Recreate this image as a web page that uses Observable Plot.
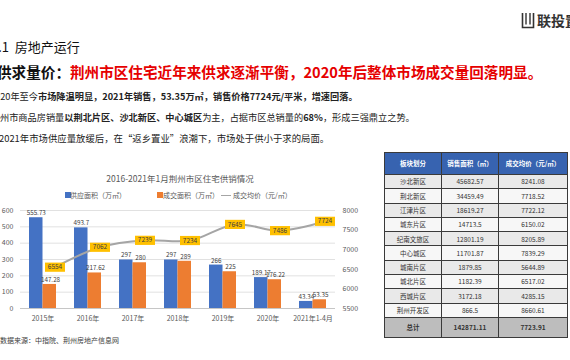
<!DOCTYPE html>
<html>
<head>
<meta charset="utf-8">
<script src="https://cdn.jsdelivr.net/npm/d3@7"></script>
<script src="https://cdn.jsdelivr.net/npm/@observablehq/plot@0.6"></script>
<style>
  html, body { margin: 0; padding: 0; background: #ffffff; }
  body { width: 570px; height: 360px; position: relative; overflow: hidden;
         font-family: "Noto Sans CJK SC", "Noto Sans", sans-serif; color: #222; }
  .abs { position: absolute; white-space: nowrap; }
  b { font-weight: 700; }
  table.t { position: absolute; left: 384px; top: 152px; border-collapse: collapse;
            font-size: 6.5px; color: #333; table-layout: fixed; }
  table.t td, table.t th { border: 1px solid #3a3a3a; text-align: center; padding: 0; line-height: 1; }
  table.t th { background: #3763b0; color: #fff; font-weight: 700; height: 21px; }
  table.t tr.r td { height: 13.3px; }
  table.t tr.r:nth-child(odd) td { background: #e9e9e9; }
  table.t tr.r:nth-child(even) td { background: #f7f7f7; }
  table.t tr.tot td { background: #bdbdbd; font-weight: 700; height: 19px; }
</style>
</head>
<body>
<div class="abs" style="left:521px; top:11px;">
  <svg width="14" height="18" viewBox="0 0 14 18">
    <path d="M1.5,1 V15.5 H12.5 V1" fill="none" stroke="#333" stroke-width="1.6"/>
    <path d="M5,1 V12.5 M9,1 V12.5" fill="none" stroke="#333" stroke-width="1.4"/>
  </svg>
</div>
<div class="abs" style="left:537px; top:10px; font-size:14px; line-height:20px; font-weight:700; color:#333;">联投置业</div>

<div class="abs" style="left:-9px; top:38px; font-size:13px; line-height:18px; color:#111;">2.1&nbsp;&nbsp;房地产运行</div>

<div class="abs" style="left:-3px; top:62px; font-size:14.6px; line-height:20px; font-weight:700;">
  <span style="color:#111;">供求量价：</span><span style="color:#e60000;">荆州市区住宅近年来供求逐渐平衡，2020年后整体市场成交量回落明显。</span>
</div>

<div class="abs" style="left:-10px; top:90px; font-size:9.2px; line-height:12px;">2020年至今<b>市场降温明显，2021年销售，53.35万㎡，销售价格7724元/平米，增速回落。</b></div>
<div class="abs" style="left:-9.2px; top:111px; font-size:9.2px; line-height:12px;">荆州市商品房销量<b>以荆北片区、沙北新区、中心城区</b>为主，占据市区总销量的<b>68%</b>，形成三强鼎立之势。</div>
<div class="abs" style="left:-1px; top:132px; font-size:9.4px; line-height:12px;">2021年市场供应量放缓后，在“返乡置业”浪潮下，市场处于供小于求的局面。</div>

<div id="ctitle" class="abs" style="left:0; width:360px; text-align:center; top:172px; font-size:8.5px; line-height:12px; color:#595959;"></div>
<div id="legend" class="abs" style="left:0; top:189px; width:370px; height:12px; font-size:7px; line-height:12px; color:#595959;"></div>

<div id="chart" class="abs" style="left:0; top:200px;"></div>

<div class="abs" style="left:0; top:334px; font-size:7px; line-height:12px; color:#404040;">数据来源：中指院、荆州房地产信息网</div>

<table class="t" id="tbl">
  <colgroup><col style="width:57px"><col style="width:57px"><col style="width:69px"></colgroup>
</table>

<script>
// ---- chart data ----
const chartTitle = "2016-2021年1月荆州市区住宅供销情况";
const years = ["2015年", "2016年", "2017年", "2018年", "2019年", "2020年", "2021年1-4月"];
const supply = [555.73, 493.7, 297, 297, 266, 189.17, 43.34];
const deal = [147.28, 217.62, 280, 289, 225, 176.22, 53.35];
const price = [6554, 7062, 7239, 7234, 7645, 7486, 7724];
const leftTicks = [0, 100, 200, 300, 400, 500, 600];
const priceTicks = [5500, 6000, 6500, 7000, 7500, 8000];
const seriesNames = ["供应面积（万㎡）", "成交面积（万㎡）", "成交均价（元/㎡）"];
const seriesColors = ["#4472c4", "#ed7d31", "#a5a5a5"];

// ---- table data ----
const tableHeader = ["板块划分", "销售面积（㎡）", "成交均价（元/㎡）"];
const districts = ["沙北新区", "荆北新区", "江津片区", "城东片区", "纪南文旅区", "中心城区", "城南片区", "城北片区", "西城片区", "荆州开发区"];
const salesArea = ["45682.57", "34459.49", "18619.27", "14713.5", "12801.19", "11701.87", "1879.85", "1182.39", "3172.18", "866.5"];
const avgPrice = ["8241.08", "7718.52", "7722.12", "6150.02", "8205.89", "7839.29", "5644.89", "6517.02", "4285.15", "8660.61"];
const totalRow = ["总计", "142871.11", "7723.91"];

// ---- build chart ----
const font = '"Noto Sans CJK SC", "Noto Sans", sans-serif';
const pMin = priceTicks[0], pMax = priceTicks[priceTicks.length - 1];
const yMax = leftTicks[leftTicks.length - 1];
const toY = p => (p - pMin) / (pMax - pMin) * yMax;
const fromY = v => Math.round(pMin + v / yMax * (pMax - pMin));

const rows = years.map((year, i) => ({year, supply: supply[i], deal: deal[i], price: price[i]}));

const boxSymbol = { draw(ctx) { ctx.rect(-10, -4.6, 20, 9.2); } };
const lineShift = 12;

document.getElementById("ctitle").textContent = chartTitle;

const plot = Plot.plot({
  width: 370,
  height: 130,
  marginTop: 10,
  marginBottom: 22,
  marginLeft: 20,
  marginRight: 35,
  style: {fontFamily: font, fontSize: "7px", background: "transparent", color: "#595959", overflow: "visible"},
  x: {type: "band", domain: years, padding: 0, axis: null},
  y: {domain: [0, yMax], axis: null},
  marks: [
    Plot.gridY({ticks: leftTicks, stroke: "#d9d9d9", strokeOpacity: 1, strokeWidth: 0.8}),
    Plot.ruleY([0], {stroke: "#bfbfbf", strokeWidth: 0.8}),
    Plot.barY(rows, {x: "year", y: "supply", fill: seriesColors[0], insetLeft: 9, insetRight: 22.5}),
    Plot.barY(rows, {x: "year", y: "deal", fill: seriesColors[1], insetLeft: 22.5, insetRight: 9}),
    Plot.text(rows, {x: "year", y: "supply", text: d => String(d.supply), dx: -6.75, dy: -2.5, lineAnchor: "bottom", fontSize: 6.3, fill: "#404040"}),
    Plot.text(rows, {x: "year", y: "deal", text: d => String(d.deal), dx: 7.5, dy: -2.5, lineAnchor: "bottom", fontSize: 6.3, fill: "#404040"}),
    Plot.line(rows, {x: "year", y: d => toY(d.price), curve: "catmull-rom", stroke: seriesColors[2], strokeWidth: 2, dx: lineShift}),
    Plot.dot(rows, {x: "year", y: d => toY(d.price), symbol: boxSymbol, fill: "#ffc000", stroke: "none", dx: lineShift}),
    Plot.text(rows, {x: "year", y: d => toY(d.price), text: d => String(d.price), dx: lineShift, fontSize: 6.5, fill: "#404040"}),
    Plot.axisY({ticks: leftTicks, anchor: "left", tickSize: 0, tickPadding: 7, label: null, fontSize: 7, fill: "#595959"}),
    Plot.axisY({ticks: priceTicks.map(toY), anchor: "right", tickSize: 0, tickPadding: 7, label: null, fontSize: 7, fill: "#595959", tickFormat: v => String(fromY(v))}),
    Plot.axisX({tickSize: 0, tickPadding: 8, label: null, fontSize: 7, fill: "#595959"})
  ]
});
document.getElementById("chart").appendChild(plot);

// ---- legend ----
const legend = document.getElementById("legend");
const legendPos = [{sw: 65, tx: 70}, {sw: 157, tx: 163}, {sw: 221, tx: 233}];
seriesNames.forEach((name, i) => {
  const sw = document.createElement("div");
  sw.style.position = "absolute";
  if (i < 2) {
    sw.style.left = legendPos[i].sw + "px"; sw.style.top = "3px";
    sw.style.width = "5.5px"; sw.style.height = "5.5px";
  } else {
    sw.style.left = legendPos[i].sw + "px"; sw.style.top = "5.5px";
    sw.style.width = "10px"; sw.style.height = "1.6px";
  }
  sw.style.background = seriesColors[i];
  legend.appendChild(sw);
  const tx = document.createElement("div");
  tx.style.position = "absolute"; tx.style.left = legendPos[i].tx + "px"; tx.style.top = "0";
  tx.style.whiteSpace = "nowrap";
  tx.textContent = name;
  legend.appendChild(tx);
});

// ---- table ----
const tbl = document.getElementById("tbl");
const hr = document.createElement("tr");
tableHeader.forEach(h => { const th = document.createElement("th"); th.textContent = h; hr.appendChild(th); });
tbl.appendChild(hr);
districts.forEach((d, i) => {
  const tr = document.createElement("tr"); tr.className = "r";
  [d, salesArea[i], avgPrice[i]].forEach(v => { const td = document.createElement("td"); td.textContent = v; tr.appendChild(td); });
  tbl.appendChild(tr);
});
const tt = document.createElement("tr"); tt.className = "tot";
totalRow.forEach(v => { const td = document.createElement("td"); td.textContent = v; tt.appendChild(td); });
tbl.appendChild(tt);
</script>
</body>
</html>
